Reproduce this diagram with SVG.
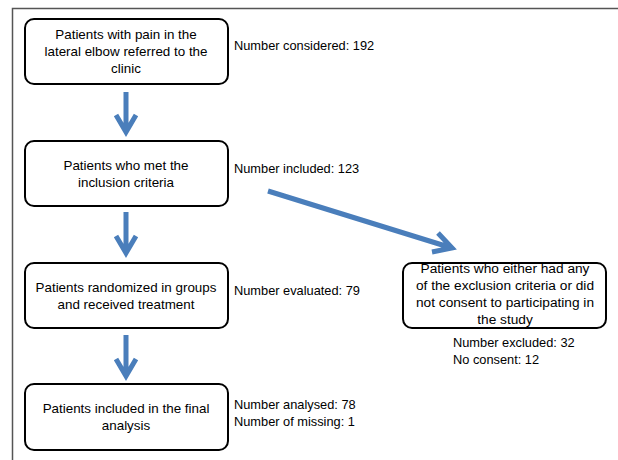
<svg xmlns="http://www.w3.org/2000/svg" width="618" height="460" viewBox="0 0 618 460">
<defs>
<style>
.box{fill:#fff;stroke:#000;stroke-width:2}
.t{font-family:"Liberation Sans",Arial,sans-serif;font-size:12.8px;fill:#000}
.c{text-anchor:middle;font-size:13.4px}
.b5{font-size:13.7px}
.arr{fill:none;stroke:#4A7EBB;stroke-width:5;stroke-linecap:butt}
</style>
</defs>
<rect width="618" height="460" fill="#fff"/>
<path d="M12.5 460 V8.5 H618" fill="none" stroke="#555" stroke-width="1.5"/>
<g id="connectors">
<path class="arr" d="M126 92 V132 M116 115 L126 132 L136 115"/>
<path class="arr" d="M126 212 V253 M116 236 L126 253 L136 236"/>
<path class="arr" d="M126 335 V376 M116 359 L126 376 L136 359"/>
<path class="arr" d="M268 191 L452 248 M438 233 L452 248 L432 252"/>
</g>
<g id="n1">
<rect class="box" x="25" y="19" width="203" height="65" rx="9"/>
<text class="t c" x="126" y="39">Patients with pain in the</text>
<text class="t c" x="126" y="56">lateral elbow referred to the</text>
<text class="t c" x="126" y="73">clinic</text>
<text class="t" x="234" y="50">Number considered: 192</text>
</g>
<g id="n2">
<rect class="box" x="25" y="141" width="203" height="65" rx="9"/>
<text class="t c" x="126" y="170">Patients who met the</text>
<text class="t c" x="126" y="187">inclusion criteria</text>
<text class="t" x="234" y="173">Number included: 123</text>
</g>
<g id="n3">
<rect class="box" x="25" y="263" width="203" height="65" rx="9"/>
<text class="t c" x="126" y="292">Patients randomized in groups</text>
<text class="t c" x="126" y="309">and received treatment</text>
<text class="t" x="234" y="295">Number evaluated: 79</text>
</g>
<g id="n4">
<rect class="box" x="25" y="384" width="203" height="66" rx="9"/>
<text class="t c" x="126" y="413">Patients included in the final</text>
<text class="t c" x="126" y="430">analysis</text>
<text class="t" x="234" y="409">Number analysed: 78</text>
<text class="t" x="234" y="426">Number of missing: 1</text>
</g>
<g id="n5">
<rect class="box" x="403" y="263" width="203" height="65" rx="9"/>
<text class="t c b5" x="505" y="273">Patients who either had any</text>
<text class="t c b5" x="505" y="290">of the exclusion criteria or did</text>
<text class="t c b5" x="505" y="307">not consent to participating in</text>
<text class="t c b5" x="505" y="324">the study</text>
<text class="t" x="453" y="347">Number excluded: 32</text>
<text class="t" x="453" y="364">No consent: 12</text>
</g>
</svg>
